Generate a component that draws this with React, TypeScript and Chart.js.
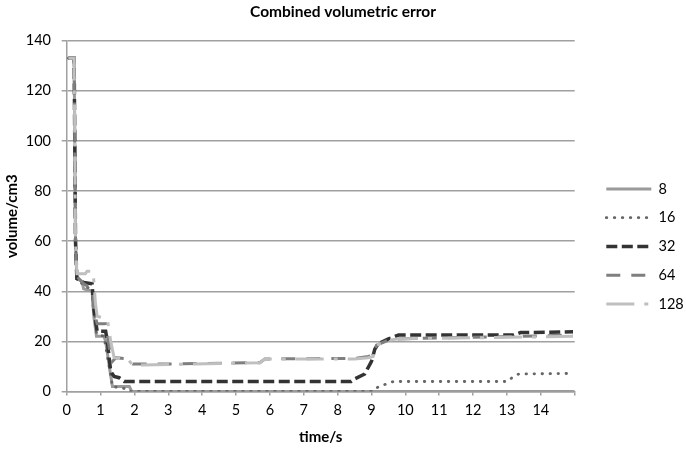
import { useEffect, useRef } from "react"
import { Chart, registerables } from "chart.js"

Chart.register(...registerables)

// time (s) and volumetric error (cm3) per series
const t8 = [0.05, 0.22, 0.26, 0.3, 0.45, 0.5, 0.75, 0.8, 0.88, 1.1, 1.15, 1.28, 1.35, 1.85, 1.92, 15]
const v8 = [133, 133, 60, 45, 44, 41, 40, 30, 22, 22, 20, 8, 2, 2, 0, 0]

const t16 = [0.05, 0.22, 0.26, 0.3, 0.5, 0.75, 0.88, 1.1, 1.28, 1.35, 1.8, 1.9, 9.0, 9.1, 9.35, 9.65, 13.0, 13.15, 13.35, 14.95]
const v16 = [133, 133, 60, 46, 42, 41, 23, 22, 8, 2, 1, 0, 0, 1.2, 2.6, 4, 4, 5.5, 7, 7.2]

const t32 = [0.05, 0.22, 0.26, 0.3, 0.45, 0.5, 0.75, 0.8, 0.9, 1.15, 1.2, 1.3, 1.4, 1.55, 1.7, 8.4, 8.5, 8.8, 9.0, 9.1, 9.2, 9.5, 9.8, 13.2, 13.4, 14.95]
const v32 = [133, 133, 60, 45, 44, 43.5, 43, 33, 24, 24, 20, 8, 6, 5.5, 4, 4, 5, 7, 12, 17, 19, 21, 22.5, 22.5, 23.5, 23.8]

const t64 = [0.05, 0.22, 0.26, 0.3, 0.5, 0.75, 0.8, 0.9, 1.15, 1.25, 1.35, 1.45, 1.8, 1.95, 3.0, 5.7, 5.85, 8.5, 8.9, 9.05, 9.15, 9.5, 9.8, 14.95]
const v64 = [133, 133, 60, 46, 43, 41, 32, 27, 27, 18, 12, 13.5, 13, 11, 11, 11.5, 13, 13.2, 14, 14.5, 18.5, 20.5, 21, 22.5]

const t128 = [0.05, 0.22, 0.26, 0.3, 0.55, 0.6, 0.78, 0.85, 0.9, 1.2, 1.3, 1.4, 1.8, 1.95, 3.0, 5.7, 5.85, 8.5, 8.9, 9.05, 9.15, 9.5, 9.8, 14.95]
const v128 = [133, 133, 60, 47, 47, 48, 48, 35, 30, 29, 20, 13.5, 13, 10.5, 10.8, 11.5, 13, 13, 13.5, 14, 18.5, 20.5, 21, 22]

const seriesNames = ["8", "16", "32", "64", "128"]
const xTicks = [0, 1, 2, 3, 4, 5, 6, 7, 8, 9, 10, 11, 12, 13, 14]

const toPoints = (t: number[], v: number[]) => t.map((x, i) => ({ x, y: v[i] }))

export default function App() {
  const chartRef = useRef<HTMLCanvasElement>(null)
  const chartInstance = useRef<Chart | null>(null)

  useEffect(() => {
    if (!chartRef.current) return
    if (chartInstance.current) chartInstance.current.destroy()

    Chart.defaults.font.family = "Lato, 'Open Sans', sans-serif"
    Chart.defaults.color = "#000"

    const grey = "#a0a0a0"

    chartInstance.current = new Chart(chartRef.current, {
      type: "line",
      data: {
        datasets: [
          {
            label: seriesNames[0],
            data: toPoints(t8, v8),
            borderColor: "#9a9a9a",
            borderWidth: 3,
            order: 4,
          },
          {
            label: seriesNames[1],
            data: toPoints(t16, v16),
            borderColor: "#666",
            borderWidth: 2.8,
            borderDash: [0.5, 7.5],
            borderCapStyle: "round",
            order: 3,
          },
          {
            label: seriesNames[2],
            data: toPoints(t32, v32),
            borderColor: "#333",
            borderWidth: 3.5,
            borderDash: [11, 4.5],
            order: 2,
          },
          {
            label: seriesNames[3],
            data: toPoints(t64, v64),
            borderColor: "#7f7f7f",
            borderWidth: 3,
            borderDash: [14, 11],
            order: 1,
          },
          {
            label: seriesNames[4],
            data: toPoints(t128, v128),
            borderColor: "#bfbfbf",
            borderWidth: 3,
            borderDash: [28, 10, 4, 10],
            order: 0,
          },
        ],
      },
      options: {
        animation: false,
        responsive: true,
        maintainAspectRatio: false,
        layout: { padding: 0 },
        elements: {
          point: { radius: 0 },
          line: { tension: 0, fill: false },
        },
        scales: {
          x: {
            type: "linear",
            min: 0,
            max: 15,
            afterFit: (s: any) => {
              s.height = 57.5
            },
            afterBuildTicks: (s: any) => {
              s.ticks = [...xTicks, 15].map((value) => ({ value }))
            },
            ticks: {
              padding: 6.6,
              maxRotation: 0,
              autoSkip: false,
              font: { size: 14.5 },
              callback: (v: any) => (xTicks.includes(v) ? String(v) : ""),
            },
            grid: { drawOnChartArea: false, tickLength: 4, color: grey, lineWidth: 1.5 },
            border: { color: grey, width: 1.5 },
            title: {
              display: true,
              text: "time/s",
              font: { size: 15, weight: "bold" },
              padding: { top: 0, bottom: 2.5 },
            },
          },
          y: {
            min: 0,
            max: 140,
            afterFit: (s: any) => {
              s.width = 66.7
            },
            ticks: { stepSize: 20, padding: 10.7, font: { size: 14.5 } },
            grid: { color: grey, lineWidth: 1.5, tickLength: 5 },
            border: { color: grey, width: 1.5 },
            title: {
              display: true,
              text: "volume/cm3",
              font: { size: 15, weight: "bold" },
              padding: { top: 3, bottom: 0 },
            },
          },
          // empty spacer between plot and legend
          gap: {
            position: "right",
            display: true,
            ticks: { display: false },
            grid: { display: false },
            border: { display: false },
            afterFit: (s: any) => {
              s.width = 17.3
            },
          },
        },
        plugins: {
          title: {
            display: true,
            text: "Combined volumetric error",
            font: { size: 15.5, weight: "bold" },
            color: "#000",
            padding: { top: 2.8, bottom: 19.3 },
          },
          legend: {
            position: "right",
            maxWidth: 94,
            // blank title only pushes the legend rows down
            title: { display: true, text: " ", font: { size: 10 }, padding: { top: 32, bottom: 0 } },
            labels: {
              usePointStyle: true,
              pointStyle: "line",
              pointStyleWidth: 45,
              padding: 14.3,
              font: { size: 14.5 },
              color: "#000",
              generateLabels: (chart: any) =>
                chart.data.datasets.map((ds: any, i: number) => ({
                  text: ds.label,
                  datasetIndex: i,
                  hidden: false,
                  strokeStyle: ds.borderColor,
                  fillStyle: ds.borderColor,
                  fontColor: "#000",
                  lineWidth: ds.borderWidth,
                  lineDash: ds.borderDash || [],
                  lineCap: ds.borderCapStyle || "butt",
                  pointStyle: "line",
                })),
            },
          },
          tooltip: { enabled: false },
        },
      },
    } as any)

    return () => {
      if (chartInstance.current) {
        chartInstance.current.destroy()
        chartInstance.current = null
      }
    }
  }, [])

  return (
    <div style={{ position: "fixed", left: 0, top: 0, width: 686, height: 449, background: "#fff" }}>
      <canvas ref={chartRef} />
    </div>
  )
}
